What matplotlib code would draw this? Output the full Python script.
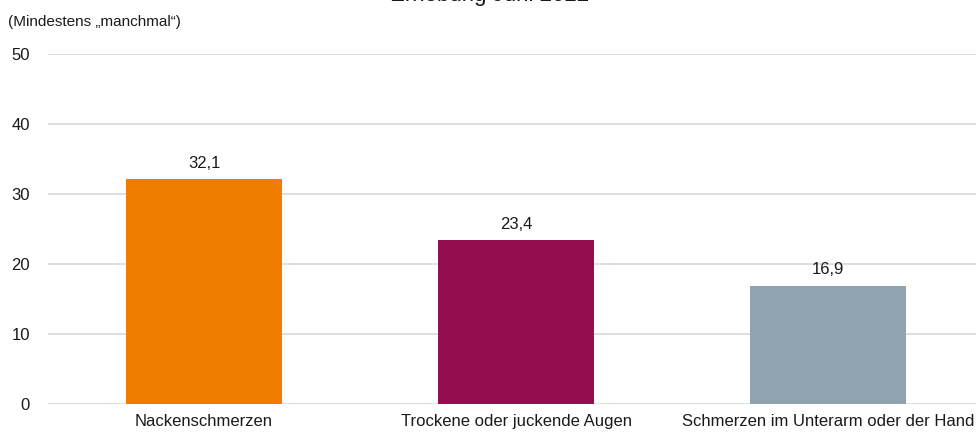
import matplotlib.pyplot as plt

# === Data ===
categories = ['Nackenschmerzen', 'Trockene oder juckende Augen', 'Schmerzen im Unterarm oder der Hand']
values = [32.1, 23.4, 16.9]
colors = ['#F07D00', '#930D4F', '#8FA4AF']
yticks = [0, 10, 20, 30, 40, 50]

plt.rcParams['font.family'] = ['Liberation Sans', 'DejaVu Sans']

W, H = 976, 440
fig = plt.figure(figsize=(W / 100, H / 100), dpi=100)
# axes box in pixels: left 48, right 976, bottom 404, top 54
ax = fig.add_axes([48 / W, 1 - 404 / H, (976 - 48) / W, (404 - 54) / H])

x = range(len(categories))
bars = ax.bar(x, values, width=0.5, color=colors, zorder=3)

for b, v in zip(bars, values):
    ax.annotate(f'{v:.1f}'.replace('.', ','), (b.get_x() + b.get_width() / 2, v),
                xytext=(0, 6), textcoords='offset points', ha='center', va='bottom',
                fontsize=12, color='#1a1a1a')

ax.set_ylim(0, 50)
ax.set_xlim(-0.5, 2.474)
ax.set_yticks(yticks)
ax.set_yticklabels([str(t) for t in yticks], fontsize=12, color='#1a1a1a')
ax.set_xticks(list(x))
ax.set_xticklabels(categories, fontsize=12, color='#1a1a1a')
ax.tick_params(axis='both', length=0)
ax.tick_params(axis='y', pad=13)
ax.tick_params(axis='x', pad=7)
ax.grid(axis='y', color='#d9d9d9', linewidth=1.2, zorder=0)
for s in ax.spines.values():
    s.set_visible(False)

fig.text(490 / W, 1 - (-4) / H, 'Erhebung Juni 2022', ha='center', va='center', fontsize=16, color='#1a1a1a')
fig.text(8 / W, 1 - 22 / H, '(Mindestens \u201emanchmal\u201c)', ha='left', va='center', fontsize=11,
         color='#1a1a1a', family=['Liberation Sans Narrow', 'Liberation Sans', 'DejaVu Sans'])

fig.savefig('out.png', dpi=100)
